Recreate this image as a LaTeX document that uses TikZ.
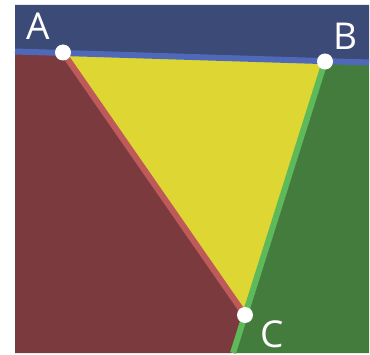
\documentclass[tikz,border=0pt]{standalone}
\usepackage{fontspec}
\setmainfont{Open Sans}
\definecolor{topblue}{HTML}{3C4A78}
\definecolor{lineblue}{HTML}{5068B8}
\definecolor{regred}{HTML}{7B3B3E}
\definecolor{linered}{HTML}{BE5A5A}
\definecolor{regyellow}{HTML}{DDD633}
\definecolor{reggreen}{HTML}{447C3E}
\definecolor{linegreen}{HTML}{5DB95A}
\tikzset{
  vertex/.style={circle,fill=white,inner sep=0pt,minimum size=16pt},
  lbl/.style={text=white,font=\fontsize{37}{40}\selectfont,anchor=base,inner sep=0pt},
  edge/.style={line width=6pt}
}
\begin{document}
\begin{tikzpicture}[x=1pt,y=1pt]
\useasboundingbox (0,0) rectangle (370,354);
\coordinate (A) at (63,301.5);
\coordinate (B) at (325,292.5);
\coordinate (C) at (245,39);
\coordinate (L) at (15,302.5);
\coordinate (R) at (369,291.5);
\coordinate (D) at (233,1);
\coordinate (BL) at (15,1);
\coordinate (BR) at (369,1);
\coordinate (TL) at (15,349);
\coordinate (TR) at (369,349);
% regions
\fill[regred] (BL) -- (L) -- (A) -- (C) -- (D) -- cycle;
\fill[reggreen] (D) -- (C) -- (B) -- (R) -- (BR) -- cycle;
\fill[topblue] (L) -- (TL) -- (TR) -- (R) -- cycle;
\fill[regyellow] (A) -- (B) -- (C) -- cycle;
% edges
\draw[edge,linered] (A) -- (C);
\draw[edge,linegreen] (D) -- (C) -- (B);
\draw[edge,lineblue] (L) -- (R);
% vertices
\node[vertex] (vA) at (A) {};
\node[vertex] (vB) at (B) {};
\node[vertex] (vC) at (C) {};
% labels
\node[lbl] (tA) at (38.5,314) {A};
\node[lbl] (tB) at (345,304) {B};
\node[lbl] (tC) at (272,7) {C};
\end{tikzpicture}
\end{document}
